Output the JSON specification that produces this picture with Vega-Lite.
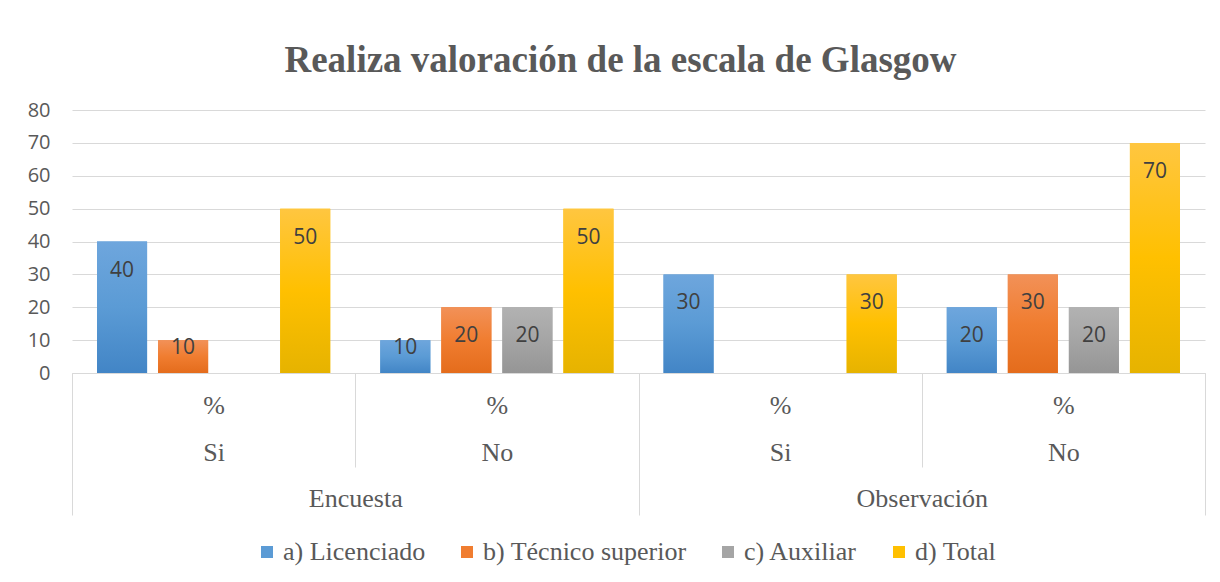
{
  "$schema": "https://vega.github.io/schema/vega-lite/v6.json",
  "width": 1133,
  "height": 263,
  "autosize": "none",
  "padding": {"left": 72, "top": 110, "right": 15, "bottom": 209},
  "background": "white",
  "title": {"text": "Realiza valoración de la escala de Glasgow", "font": "Liberation Serif", "fontSize": 37, "fontWeight": "bold", "color": "#595959", "anchor": "middle", "offset": 20, "dx": -18},
  "data": {"values": [
    {"enc": "Encuesta", "resp": "Si", "key": "Encuesta|Si", "serie": "a) Licenciado", "v": 40},
    {"enc": "Encuesta", "resp": "Si", "key": "Encuesta|Si", "serie": "b) Técnico superior", "v": 10},
    {"enc": "Encuesta", "resp": "Si", "key": "Encuesta|Si", "serie": "c) Auxiliar", "v": 0},
    {"enc": "Encuesta", "resp": "Si", "key": "Encuesta|Si", "serie": "d) Total", "v": 50},
    {"enc": "Encuesta", "resp": "No", "key": "Encuesta|No", "serie": "a) Licenciado", "v": 10},
    {"enc": "Encuesta", "resp": "No", "key": "Encuesta|No", "serie": "b) Técnico superior", "v": 20},
    {"enc": "Encuesta", "resp": "No", "key": "Encuesta|No", "serie": "c) Auxiliar", "v": 20},
    {"enc": "Encuesta", "resp": "No", "key": "Encuesta|No", "serie": "d) Total", "v": 50},
    {"enc": "Observación", "resp": "Si", "key": "Observación|Si", "serie": "a) Licenciado", "v": 30},
    {"enc": "Observación", "resp": "Si", "key": "Observación|Si", "serie": "b) Técnico superior", "v": 0},
    {"enc": "Observación", "resp": "Si", "key": "Observación|Si", "serie": "c) Auxiliar", "v": 0},
    {"enc": "Observación", "resp": "Si", "key": "Observación|Si", "serie": "d) Total", "v": 30},
    {"enc": "Observación", "resp": "No", "key": "Observación|No", "serie": "a) Licenciado", "v": 20},
    {"enc": "Observación", "resp": "No", "key": "Observación|No", "serie": "b) Técnico superior", "v": 30},
    {"enc": "Observación", "resp": "No", "key": "Observación|No", "serie": "c) Auxiliar", "v": 20},
    {"enc": "Observación", "resp": "No", "key": "Observación|No", "serie": "d) Total", "v": 70}
  ]},
  "layer": [
    {
      "encoding": {
        "x": {"field": "key", "type": "nominal", "sort": null,
          "scale": {"paddingInner": 0, "paddingOuter": 0},
          "axis": {"orient": "bottom", "title": null, "labelAngle": 0, "tickBand": "extent", "tickSize": 94, "tickColor": "#D9D9D9", "domainColor": "#D9D9D9",
            "labelExpr": "datum.label ? ['%', split(datum.label, '|')[1]] : ''", "labelFont": "Liberation Serif", "labelFontSize": 26, "labelColor": "#595959", "labelLineHeight": 47, "labelPadding": -75, "labelBaseline": "top"}},
        "xOffset": {"field": "serie", "type": "nominal", "scale": {"domain": ["a) Licenciado", "b) Técnico superior", "c) Auxiliar", "d) Total"], "paddingInner": 0.18, "paddingOuter": 0.41}},
        "y": {"field": "v", "type": "quantitative", "scale": {"domain": [0, 80], "nice": false},
          "axis": {"title": null, "tickCount": 8, "labelOverlap": false, "domain": false, "ticks": false, "grid": true, "gridColor": "#D9D9D9", "labelFont": "Open Sans", "labelFontSize": 20, "labelColor": "#595959", "labelPadding": 22}}
      },
      "layer": [
        {
          "mark": {"type": "bar"},
          "encoding": {
            "color": {"field": "serie", "type": "nominal",
              "scale": {"domain": ["a) Licenciado", "b) Técnico superior", "c) Auxiliar", "d) Total"],
                "range": ["#5B9BD5", "#F07D30", "#A5A5A5", "#FFC000"]},
              "legend": {"title": null, "orient": "none", "legendX": 182, "legendY": 429, "direction": "horizontal", "labelFont": "Times New Roman", "labelFontSize": 26, "labelOffset": 3, "columnPadding": 28,
                "encode": {"labels": {"update": {"font": {"value": "Times New Roman"}, "fontSize": {"value": 26}, "fill": {"value": "#595959"}}}}}}
          }
        },
        {
          "transform": [{"filter": "datum.serie == 'a) Licenciado'"}],
          "mark": {"type": "bar", "color": {"gradient": "linear", "x1": 0, "y1": 0, "x2": 0, "y2": 1, "stops": [{"offset": 0, "color": "#6EA6DD"}, {"offset": 0.5, "color": "#5B9BD5"}, {"offset": 1, "color": "#4285C6"}]}}
        },
        {
          "transform": [{"filter": "datum.serie == 'b) Técnico superior'"}],
          "mark": {"type": "bar", "color": {"gradient": "linear", "x1": 0, "y1": 0, "x2": 0, "y2": 1, "stops": [{"offset": 0, "color": "#F29158"}, {"offset": 0.5, "color": "#F07D30"}, {"offset": 1, "color": "#E46C1C"}]}}
        },
        {
          "transform": [{"filter": "datum.serie == 'c) Auxiliar'"}],
          "mark": {"type": "bar", "color": {"gradient": "linear", "x1": 0, "y1": 0, "x2": 0, "y2": 1, "stops": [{"offset": 0, "color": "#B2B2B2"}, {"offset": 0.5, "color": "#A5A5A5"}, {"offset": 1, "color": "#959595"}]}}
        },
        {
          "transform": [{"filter": "datum.serie == 'd) Total'"}],
          "mark": {"type": "bar", "color": {"gradient": "linear", "x1": 0, "y1": 0, "x2": 0, "y2": 1, "stops": [{"offset": 0, "color": "#FFC640"}, {"offset": 0.5, "color": "#FFC000"}, {"offset": 1, "color": "#E6B300"}]}}
        },
        {
          "transform": [{"filter": "datum.v > 10"}],
          "mark": {"type": "text", "style": "barlabel", "baseline": "middle", "dy": 29, "color": "#404040"},
          "encoding": {"text": {"field": "v", "type": "quantitative"}}
        },
        {
          "transform": [{"filter": "datum.v > 0 && datum.v <= 10"}],
          "mark": {"type": "text", "style": "barlabel", "baseline": "middle", "dy": 8, "color": "#404040"},
          "encoding": {"text": {"field": "v", "type": "quantitative"}}
        }
      ]
    },
    {
      "mark": {"type": "point", "opacity": 0},
      "encoding": {
        "x": {"field": "enc", "type": "nominal", "sort": null,
          "scale": {"paddingInner": 0, "paddingOuter": 0},
          "axis": {"orient": "bottom", "title": null, "labelAngle": 0, "tickBand": "extent", "tickSize": 142, "tickColor": "#D9D9D9", "domain": false, "offset": 0,
            "labelFont": "Liberation Serif", "labelFontSize": 26, "labelColor": "#595959", "labelPadding": -30, "labelBaseline": "top"}},
        "y": {"field": "v", "type": "quantitative", "axis": null}
      }
    }
  ],
  "resolve": {"scale": {"x": "independent"}, "axis": {"x": "independent", "y": "independent"}},
  "config": {
    "view": {"stroke": null},
    "style": {"barlabel": {"font": "Open Sans", "fontSize": 21}},
    "legend": {"symbolType": "square", "symbolSize": 144, "symbolStrokeWidth": 0, "labelFont": "Times New Roman", "labelFontSize": 26, "labelColor": "#595959", "labelLimit": 400}
  }
}
